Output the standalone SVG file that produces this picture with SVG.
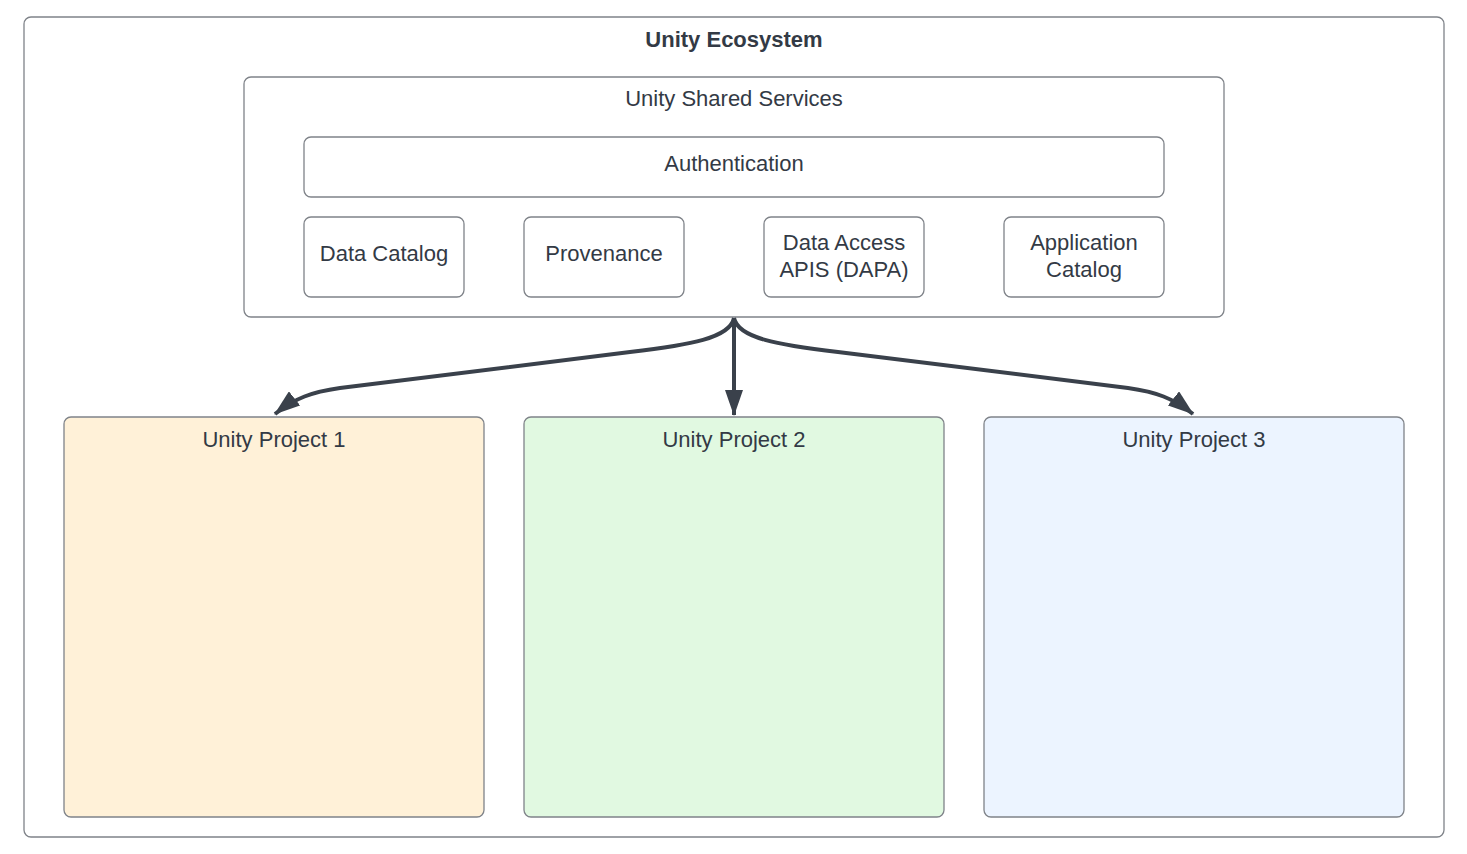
<svg xmlns="http://www.w3.org/2000/svg" width="1467" height="854" viewBox="0 0 1467 854">
<style>
.box{fill:#ffffff;stroke:#7f8389;stroke-width:1.3}
.t{font-family:"Liberation Sans",Arial,sans-serif;font-size:22px;fill:#333a45;text-anchor:middle}
.b{font-weight:bold}
.c{fill:none;stroke:#3a414b;stroke-width:4}
</style>
<defs>
<marker id="ah" viewBox="0 0 26 18" refX="25" refY="9" markerWidth="26" markerHeight="18" markerUnits="userSpaceOnUse" orient="auto">
<path d="M0,0 L26,9 L0,18 z" fill="#3a414b"/>
</marker>
</defs>
<rect width="1467" height="854" fill="#ffffff"/>
<g id="ecosystem">
<rect class="box" x="24" y="17" width="1420" height="820" rx="7"/>
<text class="t b" x="734" y="47">Unity Ecosystem</text>
</g>
<g id="shared-services">
<rect class="box" x="244" y="77" width="980" height="240" rx="7"/>
<text class="t" x="734" y="106">Unity Shared Services</text>
</g>
<g id="authentication">
<rect class="box" x="304" y="137" width="860" height="60" rx="7"/>
<text class="t" x="734" y="171">Authentication</text>
</g>
<g id="data-catalog">
<rect class="box" x="304" y="217" width="160" height="80" rx="7"/>
<text class="t" x="384" y="261">Data Catalog</text>
</g>
<g id="provenance">
<rect class="box" x="524" y="217" width="160" height="80" rx="7"/>
<text class="t" x="604" y="261">Provenance</text>
</g>
<g id="dapa">
<rect class="box" x="764" y="217" width="160" height="80" rx="7"/>
<text class="t" x="844" y="250">Data Access</text>
<text class="t" x="844" y="277">APIS (DAPA)</text>
</g>
<g id="app-catalog">
<rect class="box" x="1004" y="217" width="160" height="80" rx="7"/>
<text class="t" x="1084" y="250">Application</text>
<text class="t" x="1084" y="277">Catalog</text>
</g>
<g id="project1">
<rect class="box" x="64" y="417" width="420" height="400" rx="7" style="fill:#fff1d8"/>
<text class="t" x="274" y="447">Unity Project 1</text>
</g>
<g id="project2">
<rect class="box" x="524" y="417" width="420" height="400" rx="7" style="fill:#e1f9e1"/>
<text class="t" x="734" y="447">Unity Project 2</text>
</g>
<g id="project3">
<rect class="box" x="984" y="417" width="420" height="400" rx="7" style="fill:#ecf4ff"/>
<text class="t" x="1194" y="447">Unity Project 3</text>
</g>
<g id="connectors">
<path class="c" d="M734,318 L734,415" marker-end="url(#ah)"/>
<path class="c" d="M734,318 C730,338 690,345 630,352 L340,388 C312,392 295,398 275,414" marker-end="url(#ah)"/>
<path class="c" d="M734,318 C738,338 778,345 838,352 L1128,388 C1156,392 1173,398 1193,414" marker-end="url(#ah)"/>
</g>
</svg>
